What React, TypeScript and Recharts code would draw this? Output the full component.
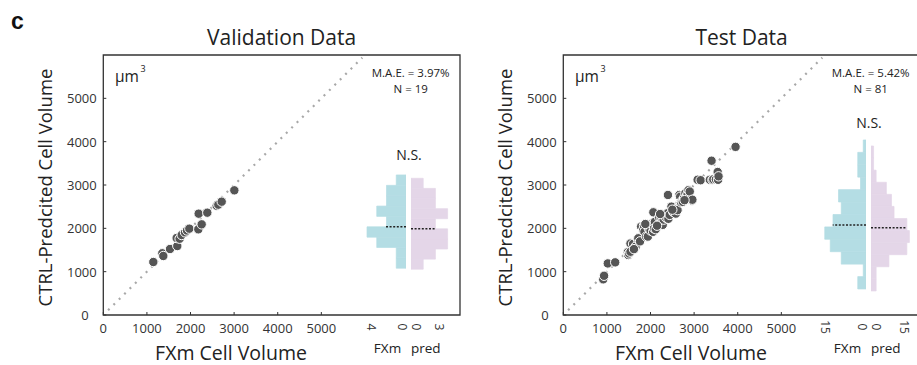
import React from 'react';
import {
  ScatterChart, Scatter, XAxis, YAxis, ReferenceLine, ReferenceArea,
  BarChart, Bar,
} from 'recharts';

const FONT = '"Open Sans", "DejaVu Sans", sans-serif';
const INK = '#333';
const DOT = '#555';
const FXM_BLUE = '#b4dde4';
const PRED_PINK = '#e4d6e8';

const VOLUME_TICKS = [0, 1000, 2000, 3000, 4000, 5000];

// validation set, µm³ (N = 19)
const VAL_FXM = [1147, 1353, 1376, 1530, 1697, 1682, 1750, 1797, 1874, 1920, 1973, 2179, 2256, 2187, 2385, 2600, 2638, 2715, 3005];
const VAL_PRED = [1223, 1424, 1362, 1523, 1592, 1777, 1760, 1846, 1908, 1950, 1992, 1977, 2092, 2338, 2361, 2520, 2546, 2615, 2877];

// test set, µm³ (N = 81)
const TEST_FXM = [
  915, 935, 1020, 1190, 1480, 1490, 1510, 1540, 1600, 1650, 1660, 1710, 1720, 1760,
  1785, 1830, 1850, 1860, 1900, 1940, 1960, 1975, 2000, 2040, 2050, 2060, 2065, 2080, 2100, 2120,
  2200, 2240, 2250, 2270, 2280, 2300, 2330, 2360, 2395, 2400, 2410, 2440, 2480,
  2520, 2560, 2580, 2600, 2620, 2660, 2680, 2700, 2730, 2740, 2770,
  2800, 2820, 2840, 2850, 2870, 2890, 2900, 2950, 2960,
  3080, 3150, 3360, 3400, 3420, 3440, 3500, 3540, 3550, 3560, 3950,
  1540, 1620, 1880, 2150, 2220, 2500, 2780,
];
const TEST_PRED = [
  823, 905, 1190, 1215, 1450, 1385, 1420, 1650, 1640, 1560, 1580, 1750, 1770, 1700,
  2040, 1960, 2060, 1920, 1810, 1810, 2000, 2050, 1950, 2110, 2080, 1920, 2370, 2000, 2150, 1980,
  2250, 2130, 2230, 2160, 2080, 2200, 2300, 2240, 2350, 2770, 2220, 2310, 2500,
  2380, 2400, 2340, 2450, 2420, 2770, 2730, 2600, 2640, 2610, 2700,
  2810, 2680, 2760, 2790, 2880, 2700, 2850, 2640, 2660,
  3120, 3110, 3120, 3560, 3120, 3130, 3130, 3300, 3120, 3200, 3880,
  1460, 1520, 2100, 2060, 2330, 2430, 2650,
];

// histograms: bin centres (µm³, bottom to top) and counts
const VAL_FXM_BINS = [1198, 1437, 1676, 1915, 2155, 2394, 2633, 2872, 3112];
const VAL_FXM_COUNTS = [1, 1, 3, 4, 2, 3, 2, 2, 1];
const VAL_PRED_BINS = [1172, 1405, 1638, 1872, 2105, 2338, 2572, 2805, 3038];
const VAL_PRED_COUNTS = [1, 2, 3, 3, 2, 3, 2, 2, 1];
const TEST_FXM_BINS = [743, 1030, 1316, 1603, 1890, 2176, 2463, 2750, 3036, 3323, 3610, 3896];
const TEST_FXM_COUNTS = [3, 1, 9, 13, 15, 12, 9, 10, 2, 3, 3, 1];
const TEST_PRED_BINS = [693, 972, 1251, 1530, 1809, 2088, 2367, 2645, 2924, 3203, 3482, 3761];
const TEST_PRED_COUNTS = [2, 2, 7, 14, 15, 14, 9, 8, 6, 2, 1, 1];

// medians drawn across the histograms
const VAL_MEDIANS = { fxm: 2038, pred: 1992 };
const TEST_MEDIANS = { fxm: 2077, pred: 2015 };

const X_MAX = 8180;
const Y_MAX = 6000;
const HIST_W = 45;
const HIST_PAD = 12;

const toPoints = (xs: number[], ys: number[]) => xs.map((x, i) => ({ x, y: ys[i] }));

const Dot = (p: any) => (
  <circle cx={p.cx} cy={p.cy} r={4.7} fill={DOT} stroke="#fff" strokeWidth={1} />
);

const XTick = (p: any) => (
  <text x={p.x} y={p.y} textAnchor="middle" dominantBaseline="central" fontSize={13} fill={INK} fontFamily={FONT}>
    {p.payload.value}
  </text>
);

const YTick = (p: any) => (
  <text x={p.x + (p.payload.value === 0 ? -8 : 0)} y={p.y} textAnchor="end" dominantBaseline="central" fontSize={13} fill={INK} fontFamily={FONT}>
    {p.payload.value}
  </text>
);

type HistProps = {
  bins: number[]; counts: number[]; side: 'left' | 'right'; base: number;
  pxPerCount: number; ticks: number[]; zeroDx: number; maxDx: number;
  binPx: number; median: number; medianLen: number; color: string;
};

function Hist({ bins, counts, side, base, pxPerCount, ticks, zeroDx, maxDx, binPx, median, medianLen, color }: HistProps) {
  const data = bins.map((y, i) => ({ y, count: counts[i] }));
  const left = side === 'left' ? base - HIST_W - HIST_PAD : base - HIST_PAD;
  const HistTick = (p: any) => {
    const v = p.payload.value;
    return (
      <text
        transform={`translate(${p.x + (v === 0 ? zeroDx : maxDx)},327) rotate(90)`}
        textAnchor="middle" dominantBaseline="central" fontSize={12} fill={INK} fontFamily={FONT}
      >
        {v}
      </text>
    );
  };
  return (
    <div style={{ position: 'absolute', left, top: 0 }}>
      <BarChart
        width={HIST_W + 2 * HIST_PAD} height={365} data={data} layout="vertical"
        margin={{ top: 55, right: HIST_PAD, bottom: 0, left: HIST_PAD }}
      >
        <XAxis
          type="number" domain={[0, HIST_W / pxPerCount]} reversed={side === 'left'}
          ticks={ticks} height={50} axisLine={false} tickLine={false} tick={<HistTick />}
          allowDataOverflow
        />
        <YAxis type="number" dataKey="y" domain={[0, Y_MAX]} reversed hide />
        <Bar dataKey="count" fill={color} stroke={color} strokeWidth={0.7} barSize={binPx} isAnimationActive={false} />
        <ReferenceLine
          segment={[{ x: 0, y: median }, { x: medianLen, y: median }]}
          stroke="#222" strokeWidth={1.4} strokeDasharray="2 1.6"
        />
      </BarChart>
    </div>
  );
}

type PanelProps = {
  left: number; title: string; fxm: number[]; pred: number[]; mae: string; n: number; nsY: number;
  fxmBins: number[]; fxmCounts: number[]; predBins: number[]; predCounts: number[];
  fxmPx: number; predPx: number; fxmTicks: number[]; predTicks: number[];
  fxmBinPx: number; predBinPx: number; medians: { fxm: number; pred: number };
  fxmMedLen: number; predMedLen: number;
  fxmMaxDx: number; predMaxDx: number;
};

function Panel(p: PanelProps) {
  const pts = toPoints(p.fxm, p.pred);
  return (
    <div style={{ position: 'absolute', left: p.left, top: 0, width: 462, height: 365 }}>
      <ScatterChart width={462} height={365} margin={{ top: 55, right: 2, bottom: 0, left: 0 }}>
        <XAxis
          type="number" dataKey="x" domain={[0, X_MAX]} ticks={VOLUME_TICKS} height={50}
          axisLine={false} tickSize={-3} tickMargin={15.5} tickLine={{ stroke: INK }} tick={<XTick />}
          allowDataOverflow
        />
        <YAxis
          type="number" dataKey="y" domain={[0, Y_MAX]} ticks={VOLUME_TICKS} width={103.3}
          axisLine={false} tickSize={-3} tickMargin={9.6} tickLine={{ stroke: INK }} tick={<YTick />}
          allowDataOverflow
        />
        <ReferenceArea x1={0} x2={X_MAX} y1={0} y2={Y_MAX} fill="none" fillOpacity={0} stroke={INK} strokeWidth={1.3} />
        <ReferenceLine
          segment={[{ x: 110, y: 110 }, { x: 5940, y: 5940 }]}
          stroke="#a8a8a8" strokeWidth={2.2} strokeDasharray="2 5.6"
        />
        <Scatter data={pts} shape={<Dot />} isAnimationActive={false} />
      </ScatterChart>

      <Hist
        bins={p.fxmBins} counts={p.fxmCounts} side="left" base={405.7} pxPerCount={p.fxmPx}
        ticks={p.fxmTicks} zeroDx={-4} maxDx={p.fxmMaxDx} binPx={p.fxmBinPx}
        median={p.medians.fxm} medianLen={p.fxmMedLen} color={FXM_BLUE}
      />
      <Hist
        bins={p.predBins} counts={p.predCounts} side="right" base={410.7} pxPerCount={p.predPx}
        ticks={p.predTicks} zeroDx={5.5} maxDx={p.predMaxDx} binPx={p.predBinPx}
        median={p.medians.pred} medianLen={p.predMedLen} color={PRED_PINK}
      />

      <svg width={462} height={365} style={{ position: 'absolute', left: 0, top: 0, pointerEvents: 'none' }} fontFamily={FONT}>
        <text x={281.6} y={45} textAnchor="middle" fontSize={21} fill="#222">{p.title}</text>
        <text x={115} y={81.5} fontSize={15.5} fill="#222">µm</text>
        <text x={140.5} y={72} fontSize={9} fill="#222">3</text>
        <text x={410.7} y={77} textAnchor="middle" fontSize={11.5} fill="#222">{p.mae}</text>
        <text x={410.7} y={92.5} textAnchor="middle" fontSize={11.5} fill="#222">{`N = ${p.n}`}</text>
        <text x={409} y={p.nsY} textAnchor="middle" fontSize={14} fill="#222">N.S.</text>
        <text transform="translate(52,187.5) rotate(-90)" textAnchor="middle" fontSize={18.5} fill="#222">
          CTRL-Predcited Cell Volume
        </text>
        <text x={231} y={359.5} textAnchor="middle" fontSize={19.5} fill="#222">FXm Cell Volume</text>
        <text x={387.5} y={353} textAnchor="middle" fontSize={13.5} fill="#222">FXm</text>
        <text x={425.8} y={353} textAnchor="middle" fontSize={13.5} fill="#222">pred</text>
      </svg>
    </div>
  );
}

export default function App() {
  return (
    <div style={{ position: 'absolute', left: 0, top: 0, width: 917, height: 365, overflow: 'hidden', background: '#fff', fontFamily: FONT }}>
      <Panel
        left={0} title="Validation Data" fxm={VAL_FXM} pred={VAL_PRED} mae="M.A.E. = 3.97%" n={19} nsY={160}
        fxmBins={VAL_FXM_BINS} fxmCounts={VAL_FXM_COUNTS} predBins={VAL_PRED_BINS} predCounts={VAL_PRED_COUNTS}
        fxmPx={9.75} predPx={12.2} fxmTicks={[0, 4]} predTicks={[0, 3]}
        fxmBinPx={10.3} predBinPx={10.05} medians={VAL_MEDIANS} fxmMedLen={2.05} predMedLen={2}
        fxmMaxDx={4} predMaxDx={-8}
      />
      <Panel
        left={460.4} title="Test Data" fxm={TEST_FXM} pred={TEST_PRED} mae="M.A.E. = 5.42%" n={81} nsY={128}
        fxmBins={TEST_FXM_BINS} fxmCounts={TEST_FXM_COUNTS} predBins={TEST_PRED_BINS} predCounts={TEST_PRED_COUNTS}
        fxmPx={2.75} predPx={2.56} fxmTicks={[0, 15]} predTicks={[0, 15]}
        fxmBinPx={12.35} predBinPx={12.0} medians={TEST_MEDIANS} fxmMedLen={12.1} predMedLen={13.9}
        fxmMaxDx={1} predMaxDx={-5}
      />
      <svg width={40} height={40} style={{ position: 'absolute', left: 0, top: 0 }}>
        <text x={11} y={29} fontSize={23} fontWeight="bold" fill="#111" fontFamily='"Liberation Sans", Arial, sans-serif'>c</text>
      </svg>
    </div>
  );
}
